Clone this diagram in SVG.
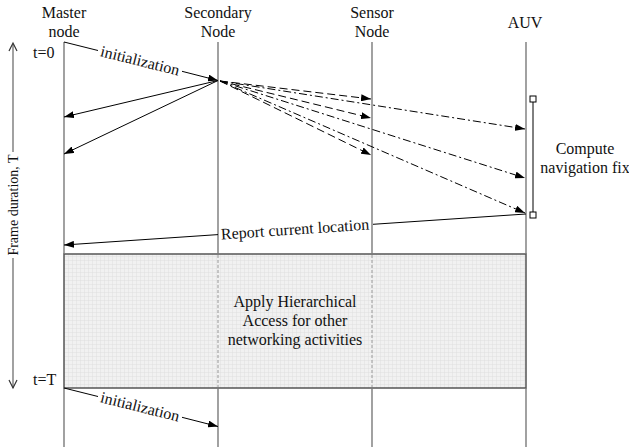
<svg xmlns="http://www.w3.org/2000/svg" width="629" height="447" viewBox="0 0 629 447">
<style>
  text{font-family:"Liberation Serif","Times New Roman",serif;font-size:16px;fill:#111;}
  .life{stroke:#7a7a7a;stroke-width:1.4;fill:none;}
  .msg{stroke:#000;stroke-width:1;fill:none;}
  .dash{stroke-dasharray:8 4;}
  .dashdot{stroke-dasharray:8 3 2 3;}
  .mid{text-anchor:middle;}
</style>
<defs>
  <marker id="ah" markerWidth="10" markerHeight="7" refX="10" refY="3.5" orient="auto" markerUnits="userSpaceOnUse">
    <path d="M0,0 L10,3.5 L0,7 z" fill="#000"/>
  </marker>
  <pattern id="grid" width="4" height="4" patternUnits="userSpaceOnUse">
    <rect width="4" height="4" fill="#f1f1f1"/>
    <path d="M0,0.25 H4 M0.25,0 V4" stroke="#dadada" stroke-width="0.5"/>
  </pattern>
</defs>

<g id="frame-axis">
  <line x1="13" y1="44" x2="13" y2="152" class="life" stroke="#444"/>
  <line x1="13" y1="258" x2="13" y2="388" class="life" stroke="#444"/>
  <path d="M9,51 L13,43 L17,51" fill="none" stroke="#333" stroke-width="1.2"/>
  <path d="M9,380 L13,388 L17,380" fill="none" stroke="#333" stroke-width="1.2"/>
  <text transform="translate(18,205) rotate(-90)" class="mid" style="font-size:14px">Frame duration, T</text>
  <text x="33" y="58">t=0</text>
  <text x="33" y="385">t=T</text>
</g>

<g id="activity-box">
  <rect x="64" y="254" width="462" height="134" fill="url(#grid)" stroke="#555" stroke-width="1.5"/>
  <line x1="218" y1="255" x2="218" y2="387" stroke="#999" stroke-width="1" stroke-dasharray="3 2"/>
  <line x1="372" y1="255" x2="372" y2="387" stroke="#999" stroke-width="1" stroke-dasharray="3 2"/>
  <text x="295" y="307" class="mid">Apply Hierarchical</text>
  <text x="295" y="326" class="mid">Access for other</text>
  <text x="295" y="345" class="mid">networking activities</text>
</g>

<g id="master">
  <text x="64" y="18" class="mid">Master</text>
  <text x="64" y="37" class="mid">node</text>
  <line x1="64" y1="42" x2="64" y2="254" class="life"/>
  <line x1="64" y1="388" x2="64" y2="447" class="life"/>
</g>
<g id="secondary">
  <text x="218" y="18" class="mid">Secondary</text>
  <text x="218" y="37" class="mid">Node</text>
  <line x1="218" y1="42" x2="218" y2="254" class="life"/>
  <line x1="218" y1="388" x2="218" y2="447" class="life"/>
</g>
<g id="sensor">
  <text x="372" y="18" class="mid">Sensor</text>
  <text x="372" y="37" class="mid">Node</text>
  <line x1="372" y1="42" x2="372" y2="254" class="life"/>
  <line x1="372" y1="388" x2="372" y2="447" class="life"/>
</g>
<g id="auv">
  <text x="525" y="28" class="mid">AUV</text>
  <line x1="526" y1="42" x2="526" y2="254" class="life"/>
  <line x1="526" y1="388" x2="526" y2="447" class="life"/>
</g>
<g id="compute-fix">
  <line x1="533" y1="102" x2="533" y2="212" stroke="#000" stroke-width="1"/>
  <rect x="530" y="96" width="6" height="6" fill="#fff" stroke="#000" stroke-width="1"/>
  <rect x="530" y="212" width="6" height="6" fill="#fff" stroke="#000" stroke-width="1"/>
  <text x="585" y="154" class="mid">Compute</text>
  <text x="585" y="173" class="mid">navigation fix</text>
</g>

<g id="connectors">
  <!-- initialization top -->
  <line x1="64" y1="42" x2="98" y2="50.5" class="msg"/>
  <line x1="182" y1="71.3" x2="218" y2="80.5" class="msg" marker-end="url(#ah)"/>
  <text transform="translate(140,61) rotate(14)" dy="5" class="mid">initialization</text>
  <!-- replies to master -->
  <line x1="218" y1="80.5" x2="64" y2="117" class="msg" marker-end="url(#ah)"/>
  <line x1="218" y1="80.5" x2="64" y2="154" class="msg" marker-end="url(#ah)"/>
  <!-- dashed to sensor -->
  <line x1="220" y1="81" x2="371" y2="99" class="msg dash" marker-end="url(#ah)"/>
  <line x1="220" y1="81" x2="371" y2="118" class="msg dash" marker-end="url(#ah)"/>
  <line x1="220" y1="81" x2="371" y2="155" class="msg dash" marker-end="url(#ah)"/>
  <!-- dash-dot to AUV -->
  <line x1="220" y1="81" x2="525" y2="129" class="msg dashdot" marker-end="url(#ah)"/>
  <line x1="220" y1="81" x2="525" y2="178" class="msg dashdot" marker-end="url(#ah)"/>
  <line x1="220" y1="81" x2="525" y2="213" class="msg dashdot" marker-end="url(#ah)"/>
  <!-- report current location -->
  <line x1="526" y1="214" x2="373" y2="224.3" class="msg"/>
  <line x1="218" y1="234.6" x2="64" y2="245" class="msg" marker-end="url(#ah)"/>
  <text transform="translate(295,229.5) rotate(-3.84)" dy="5" class="mid">Report current location</text>
  <!-- initialization bottom -->
  <line x1="64" y1="388" x2="98" y2="396.5" class="msg"/>
  <line x1="182" y1="417.3" x2="218" y2="426.5" class="msg" marker-end="url(#ah)"/>
  <text transform="translate(140,407) rotate(14)" dy="5" class="mid">initialization</text>
</g>
</svg>
